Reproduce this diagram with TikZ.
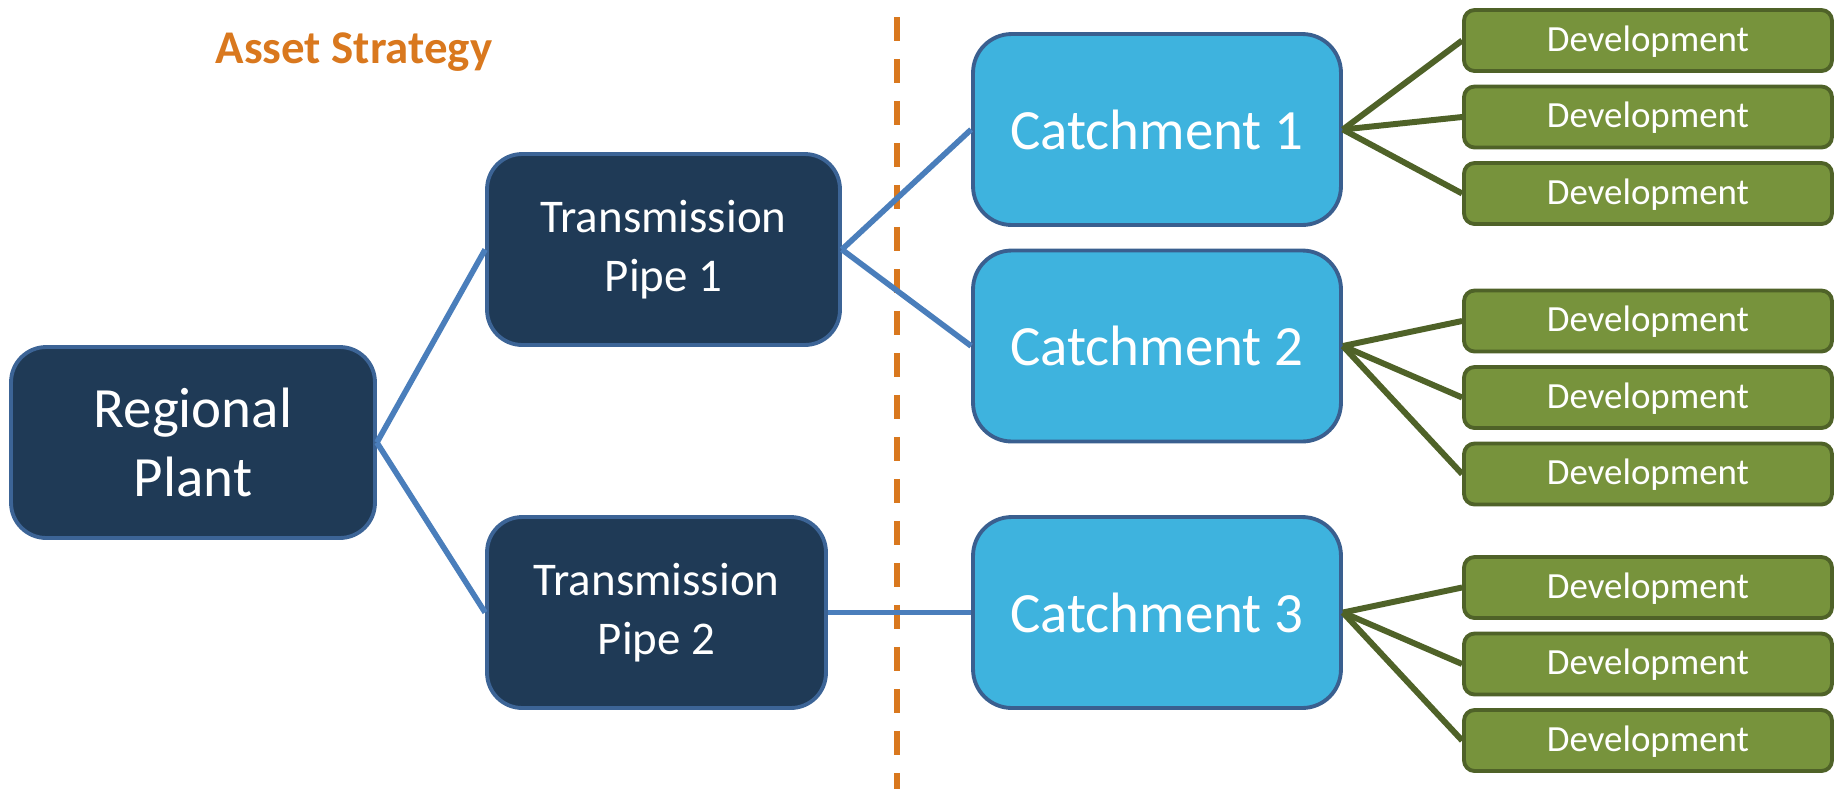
\documentclass[tikz,border=0pt]{standalone}
\usepackage{fontspec}
\setmainfont{Carlito}
\usepackage{xcolor}
\usepackage{tikz}

\definecolor{navyfill}{RGB}{31,58,86}
\definecolor{navyline}{RGB}{60,100,150}
\definecolor{pipeblue}{RGB}{74,126,187}
\definecolor{skyfill}{RGB}{62,179,222}
\definecolor{skyline}{RGB}{58,95,143}
\definecolor{devfill}{RGB}{119,147,60}
\definecolor{devline}{RGB}{79,98,40}
\definecolor{stratorange}{RGB}{217,120,30}

\begin{document}
\begin{tikzpicture}[x=0.02cm,y=-0.02cm,
  box/.style n args={4}{draw=#1,fill=#2,minimum width=#3,minimum height=#4,inner sep=0pt,text=white,align=center,line width=2.2pt},
  navybox/.style 2 args={box={navyline}{navyfill}{#1}{#2},rounded corners=20pt},
  catchbox/.style={box={skyline}{skyfill}{7.36cm}{3.82cm},rounded corners=22pt,font=\fontsize{32.4}{39}\selectfont},
  devbox/.style={box={devline}{devfill}{7.36cm}{1.22cm},rounded corners=6pt,text height=16.5pt,text depth=4.1pt,font=\fontsize{21}{25}\selectfont},
  pipelink/.style={pipeblue,line width=3.2pt},
  devlink/.style={devline,line width=3.4pt},
  divider/.style={stratorange,line width=3.4pt,dash pattern=on 13.7pt off 10.2pt}]
\useasboundingbox (0,0) rectangle (1846,789);
\node[anchor=base,text=stratorange,font=\bfseries\fontsize{26.7}{32}\selectfont] (title) at (354,63) {Asset Strategy};
\coordinate (divtop) at (897,17);
\coordinate (divbot) at (897,789);
\draw[divider] (divtop) -- (divbot);
% plant and pipes
\node[navybox={7.28cm}{3.82cm},font=\fontsize{32.4}{39.3}\selectfont] (plant) at (193,442.5) {Regional\\Plant};
\node[navybox={7.06cm}{3.82cm},font=\fontsize{26.7}{33.6}\selectfont] (pipe1) at (663.5,249.5) {Transmission\\Pipe 1};
\node[navybox={6.78cm}{3.82cm},font=\fontsize{26.7}{33.6}\selectfont] (pipe2) at (656.5,612.5) {Transmission\\Pipe 2};
% catchments
\foreach \c/\y in %
{1/129.5,2/346,3/612.5} {
   \node[catchbox] (catch\c) at (1157,\y) {Catchment \c};
}
% developments
\foreach \c/\y in %
{1/40.5,2/321,3/587.5} {
   \foreach \d in {0,1,2} {
      \node[devbox] (dev\c\d) at (1648,\y+76.5*\d) {Development};
      \draw[devlink] (catch\c.east) -- (dev\c\d.west);
   }
}
\draw[pipelink] (plant.east) -- (pipe1.west);
\draw[pipelink] (plant.east) -- (pipe2.west);
\draw[pipelink] (pipe1.east) -- (catch1.west);
\draw[pipelink] (pipe1.east) -- (catch2.west);
\draw[pipelink] (pipe2.east) -- (catch3.west);
\end{tikzpicture}
\end{document}
